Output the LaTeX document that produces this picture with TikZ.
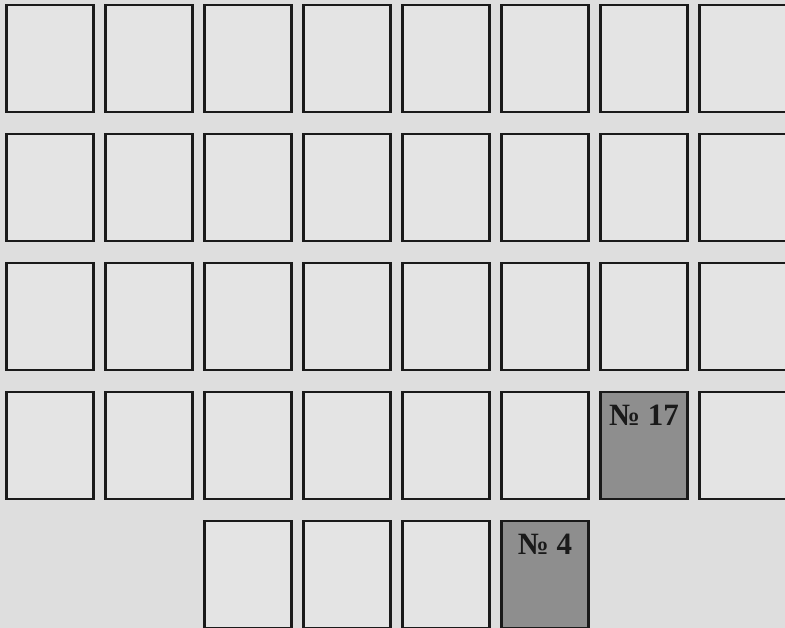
\documentclass[tikz,border=0pt]{standalone}
\usepackage{fontspec}
\usepackage{tikz}
\usetikzlibrary{positioning}
\newfontfamily\labelfont{Liberation Serif}
\definecolor{paper}{HTML}{DEDEDE}
\definecolor{cellfill}{HTML}{E4E4E4}
\definecolor{markfill}{HTML}{8E8E8E}
\definecolor{inkline}{HTML}{1A1A1A}

\begin{document}
\begin{tikzpicture}[
  x=1pt, y=-1pt,
  cell/.style={draw=inkline, fill=cellfill, line width=2.4pt, minimum width=87pt, minimum height=107pt, inner sep=0pt, outer sep=0pt},
  marked/.style={cell, fill=markfill},
  numlabel/.style={font=\labelfont\bfseries\fontsize{31}{31}\selectfont, text=inkline, inner sep=0pt}
]
  \fill[paper] (0,0) rectangle (785,628);
  \useasboundingbox (0,0) rectangle (785,628);
  \clip (0,0) rectangle (785,628);

  % four full rows of eight
  \foreach \r in {1,...,4}{
    \foreach \c in {1,...,8}{
      \ifnum\r\c=47 \def\cellstyle{marked}\else\def\cellstyle{cell}\fi
      \node[\cellstyle] (cell-\r-\c) at ({50+99*(\c-1)},{58.5+129*(\r-1)}) {};
    }
  }

  % short bottom row
  \foreach \c in {3,4,5}{
    \node[cell] (cell-5-\c) at ({50+99*(\c-1)},574.5) {};
  }
  \node[marked] (cell-5-6) at (545,574.5) {};

  \node[numlabel, below=13pt of cell-4-7.north] (label17) {№ 17};
  \node[numlabel, below=13pt of cell-5-6.north] (label4) {№ 4};
\end{tikzpicture}
\end{document}
